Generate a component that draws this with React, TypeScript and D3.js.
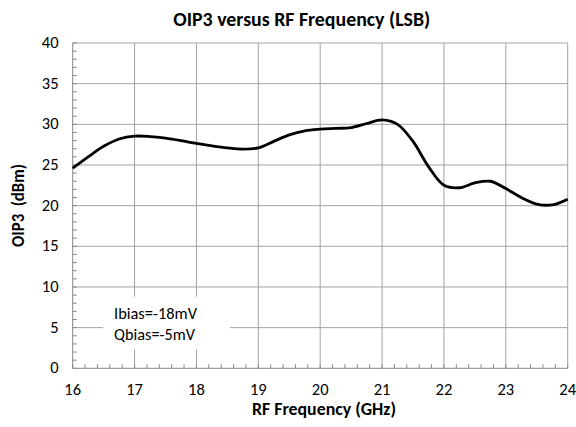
import React from "react";
import * as d3 from "d3";

const freqGHz = [16, 16.25, 16.5, 16.75, 17, 17.25, 17.5, 17.75, 18, 18.25, 18.5, 18.75, 19, 19.25, 19.5, 19.75, 20, 20.25, 20.5, 20.75, 21, 21.25, 21.5, 21.75, 22, 22.25, 22.5, 22.75, 23, 23.25, 23.5, 23.75, 24];
const oip3 = [24.6, 26.0, 27.3, 28.2, 28.55, 28.5, 28.3, 28.0, 27.65, 27.35, 27.1, 26.95, 27.1, 27.9, 28.7, 29.2, 29.4, 29.5, 29.6, 30.1, 30.55, 30.0, 27.9, 24.8, 22.5, 22.2, 22.8, 23.0, 22.1, 21.0, 20.2, 20.1, 20.8];
const xTicks = [16, 17, 18, 19, 20, 21, 22, 23, 24];
const yTicks = [0, 5, 10, 15, 20, 25, 30, 35, 40];
const title = "OIP3 versus RF Frequency (LSB)";
const xTitle = "RF Frequency (GHz)";
const yTitle = "OIP3\u00a0\u00a0(dBm)";
const notes = ["Ibias=-18mV", "Qbias=-5mV"];

export default function App() {
  const L = 72.7, R = 567.7, T = 43, B = 368.3;
  const x = d3.scaleLinear().domain([16, 24]).range([L, R]);
  const y = d3.scaleLinear().domain([0, 40]).range([B, T]);
  const line = d3.line<number>()
    .x((_, i) => x(freqGHz[i]))
    .y((d) => y(d))
    .curve(d3.curveCatmullRom.alpha(0.5));
  const xMinor = d3.range(16, 24.001, 0.2);
  const yMinor = d3.range(0, 40.001, 1);
  const font = "Carlito, Calibri, Lato, 'Open Sans', sans-serif";
  const grid = "#a3a3a3";
  const axis = "#878787";
  const noteWidths = [83, 81];
  return (
    <svg width={576} height={427} style={{ position: "absolute", left: 0, top: 0, background: "#fff" }} fontFamily={font}>
      <rect x={0} y={0} width={576} height={427} fill="#fff" />
      {xTicks.slice(1).map((t) => (
        <line key={"vx" + t} x1={x(t)} x2={x(t)} y1={T} y2={B} stroke={grid} strokeWidth={1} />
      ))}
      {yTicks.slice(1).map((t) => (
        <line key={"hy" + t} x1={L} x2={R} y1={y(t)} y2={y(t)} stroke={grid} strokeWidth={1} />
      ))}
      {xMinor.map((t, i) => (
        <line key={"mx" + i} x1={x(t)} x2={x(t)} y1={B} y2={B - 4} stroke={axis} strokeWidth={1} />
      ))}
      {yMinor.map((t, i) => (
        <line key={"my" + i} x1={L} x2={L + 4} y1={y(t)} y2={y(t)} stroke={axis} strokeWidth={1} />
      ))}
      <line x1={L} x2={L} y1={T} y2={B} stroke={axis} strokeWidth={1} />
      <line x1={L} x2={R} y1={B} y2={B} stroke={axis} strokeWidth={1} />
      <rect x={103.3} y={296.7} width={126.7} height={52.6} fill="#fff" />
      {notes.map((n, i) => (
        <text key={n} x={114} y={319 + i * 21} fontSize={16.5} fill="#000" textLength={noteWidths[i]} lengthAdjust="spacingAndGlyphs">{n}</text>
      ))}
      <path d={line(oip3) || ""} fill="none" stroke="#000" strokeWidth={2.8} strokeLinejoin="round" />
      {xTicks.map((t) => (
        <text key={"xl" + t} x={x(t)} y={395} fontSize={16.5} textAnchor="middle" fill="#000">{t}</text>
      ))}
      {yTicks.map((t) => (
        <text key={"yl" + t} x={58.5} y={y(t) + 5} fontSize={16.5} textAnchor="end" fill="#000">{t}</text>
      ))}
      <text x={173.3} y={25.5} fontSize={20} fontWeight="bold" fill="#000" textLength={257} lengthAdjust="spacingAndGlyphs">{title}</text>
      <text x={252} y={414.5} fontSize={17} fontWeight="bold" fill="#000" textLength={144} lengthAdjust="spacingAndGlyphs">{xTitle}</text>
      <text transform={`translate(23.5,247) rotate(-90)`} fontSize={17} fontWeight="bold" fill="#000" textLength={83} lengthAdjust="spacingAndGlyphs">{yTitle}</text>
    </svg>
  );
}
